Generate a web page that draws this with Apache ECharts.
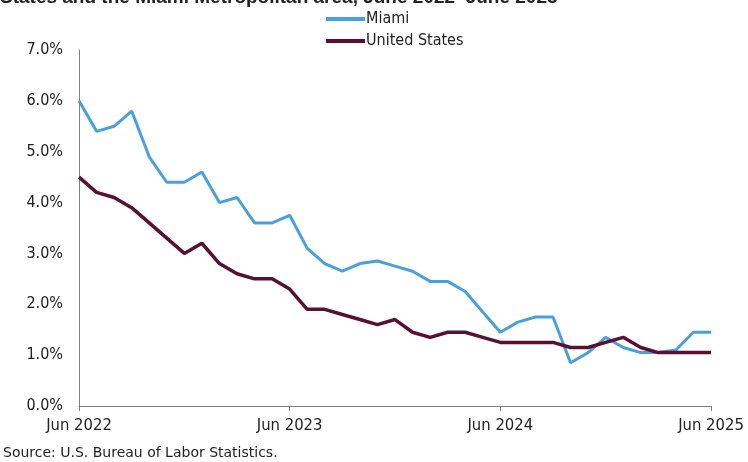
<!DOCTYPE html>
<html>
<head>
<meta charset="utf-8">
<script src="https://cdn.jsdelivr.net/npm/echarts@6/dist/echarts.min.js"></script>
<style>
html,body{margin:0;padding:0;background:#fff;}
#chart{width:748px;height:462px;}
</style>
</head>
<body>
<div id="chart"></div>
<script>
var months = [
  "Jun 2022","Jul 2022","Aug 2022","Sep 2022","Oct 2022","Nov 2022","Dec 2022",
  "Jan 2023","Feb 2023","Mar 2023","Apr 2023","May 2023","Jun 2023","Jul 2023",
  "Aug 2023","Sep 2023","Oct 2023","Nov 2023","Dec 2023","Jan 2024","Feb 2024",
  "Mar 2024","Apr 2024","May 2024","Jun 2024","Jul 2024","Aug 2024","Sep 2024",
  "Oct 2024","Nov 2024","Dec 2024","Jan 2025","Feb 2025","Mar 2025","Apr 2025",
  "May 2025","Jun 2025"
];
var miami = [6.0,5.4,5.5,5.8,4.9,4.4,4.4,4.6,4.0,4.1,3.6,3.6,3.75,3.1,2.8,2.65,2.8,2.85,2.75,2.65,2.45,2.45,2.25,1.85,1.45,1.65,1.75,1.75,0.85,1.05,1.35,1.15,1.05,1.05,1.1,1.45,1.45];
var unitedStates = [4.5,4.2,4.1,3.9,3.6,3.3,3.0,3.2,2.8,2.6,2.5,2.5,2.3,1.9,1.9,1.8,1.7,1.6,1.7,1.45,1.35,1.45,1.45,1.35,1.25,1.25,1.25,1.25,1.15,1.15,1.25,1.35,1.15,1.05,1.05,1.05,1.05];
var xTickLabels = ["Jun 2022","Jun 2023","Jun 2024","Jun 2025"];
var seriesNames = ["Miami","United States"];
var titleText = "States and the Miami Metropolitan area, June 2022\u2013June 2025";
var sourceText = "Source: U.S. Bureau of Labor Statistics.";

var chart = echarts.init(document.getElementById('chart'), null, {renderer:'canvas'});
var narrow = '"Liberation Sans Narrow","DejaVu Sans Condensed","Roboto Condensed",sans-serif';
function showTick(idx){ return xTickLabels.indexOf(months[idx]) >= 0; }
chart.setOption({
  backgroundColor:'#ffffff',
  animation:false,
  graphic:[
    {type:'text', left:0, top:-12, style:{text:titleText, font:'bold 19px "Liberation Sans","DejaVu Sans",sans-serif', fill:'#222'}},
    {type:'text', left:3, top:446, style:{text:sourceText, font:'14px "DejaVu Sans",sans-serif', fill:'#222'}}
  ],
  legend:{
    orient:'vertical', left:321, top:6, itemGap:6,
    itemWidth:39, itemHeight:4, icon:'rect',
    textStyle:{fontFamily:narrow, fontSize:16, color:'#222', padding:[0,0,0,-4]},
    data:seriesNames
  },
  grid:{left:79, right:37, top:50, bottom:56, containLabel:false},
  xAxis:{
    type:'category', boundaryGap:false, data:months,
    axisLine:{lineStyle:{color:'#808080', width:1}},
    axisTick:{show:true, interval:function(i){return showTick(i);}, length:5, lineStyle:{color:'#808080'}},
    axisLabel:{interval:function(i){return showTick(i);}, fontFamily:narrow, fontSize:16.5, color:'#222', margin:11, showMaxLabel:true},
    splitLine:{show:false}
  },
  yAxis:{
    type:'value', min:0, max:7, interval:1,
    axisLine:{show:true, lineStyle:{color:'#808080', width:1}},
    axisTick:{show:false},
    splitLine:{show:false},
    axisLabel:{formatter:function(v){return v.toFixed(1)+'%';}, fontFamily:narrow, fontSize:16, color:'#222', margin:16}
  },
  series:[
    {name:seriesNames[0], type:'line', data:miami, symbol:'none', z:2,
     lineStyle:{color:'#4aa0dc', width:3}, itemStyle:{color:'#4aa0dc'}},
    {name:seriesNames[1], type:'line', data:unitedStates, symbol:'none', z:3,
     lineStyle:{color:'#5a1030', width:3.5}, itemStyle:{color:'#5a1030'}}
  ]
});
</script>
</body>
</html>
